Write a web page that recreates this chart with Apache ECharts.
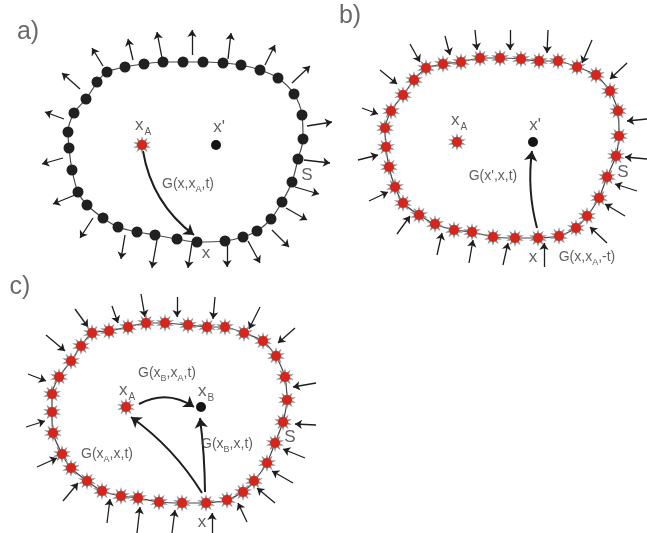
<!DOCTYPE html>
<html>
<head>
<meta charset="utf-8">
<script src="https://cdn.jsdelivr.net/npm/echarts@6/dist/echarts.min.js"></script>
<style>html,body{margin:0;padding:0;background:#fff}#chart{width:647px;height:533px}</style>
</head>
<body>
<div id="chart"></div>
<script>
// ---- Panel a: receiver dots on surface S ----
const aDots = [[97,82],[107,72],[125,67],[144,64],[163,62],[183,62],[203,62],[223,63],[241,65],[260,70],[278,78],[294,94],[302,115],[303,139],[298,159],[292,182],[282,202],[271,219],[257,231],[243,237],[225,241],[197,242],[177,239],[155,235],[137,232],[118,227],[103,218],[87,205],[78,192],[72,170],[69,148],[68,132],[74,113],[86,99]];
const aArrows = [[103,66,92,48],[133,60,128,39],[162,58,157,32],[192,55,192,30],[228,59,231,33],[265,65,275,45],[292,83,310,66],[307,126,332,122],[304,160,330,163],[295,187,319,194],[286,208,307,220],[272,230,289,247],[248,241,260,263],[227,245,227,267],[192,243,188,268],[157,240,152,268],[125,235,121,259],[93,218,80,238],[75,195,53,204],[63,158,42,164],[64,119,45,112],[80,89,62,73]];
const aSources = [[142,145]];
const aPoints = [[216,145]];

// ---- Panel b: sources on surface S ----
const bStars = [[414,80],[426,68],[443,64],[461,62],[480,58],[500,58],[521,59],[539,61],[558,61],[577,67],[596,75],[610,91],[618,111],[619,136],[616,156],[607,177],[599,198],[587,216],[576,228],[559,236],[538,238],[515,238],[493,237],[472,232],[454,230],[435,224],[419,215],[403,203],[395,187],[389,167],[386,147],[385,128],[391,111],[403,95]];
const bArrows = [[410,44,420,62],[445,36,450,55],[475,30,477,50],[510,30,510,50],[548,30,547,53],[592,40,582,63],[627,63,610,79],[647,119,627,121],[647,159,625,157],[637,191,615,184],[625,216,605,204],[607,243,590,227],[544,267,544,243],[503,265,508,243],[469,263,473,240],[437,255,442,233],[397,234,410,216],[369,201,388,192],[358,160,378,155],[362,108,378,114],[380,70,397,84]];
const bSources = [[457,142]];
const bPoints = [[533,142]];

// ---- Panel c: sources on surface S ----
const cStars = [[81,346],[92,333],[109,331],[128,327],[146,323],[165,323],[188,325],[207,327],[225,327],[244,333],[263,341],[276,356],[285,377],[287,400],[283,422],[275,443],[267,463],[254,481],[243,492],[227,500],[206,503],[182,503],[159,502],[138,498],[121,496],[102,491],[87,481],[71,468],[62,454],[53,433],[52,412],[52,394],[59,377],[71,361]];
const cArrows = [[75,309,88,327],[112,306,118,323],[141,294,145,317],[177,297,177,317],[215,297,213,319],[260,307,249,329],[295,328,278,343],[316,383,293,387],[316,425,295,424],[305,458,283,449],[293,483,272,471],[275,503,257,488],[247,522,238,503],[212,533,212,513],[172,533,175,510],[137,533,140,507],[107,523,110,499],[63,501,78,483],[37,467,57,458],[26,427,45,421],[28,374,46,381],[46,335,65,351]];
const cSources = [[126,407]];
const cPoints = [[201,407]];

// ---- Green's function paths (start x,y -> end x,y) ----
const greenPaths = [[143,151,194,235],[537,228,532,151],[139,404,194,407],[202,493,131,417],[205,492,200,418]];
const greenBend = [-0.2, 0.1, 0.3, -0.1, -0.03];

// ---- Text labels ----
const labels = [
  [28,32,'{p|a)}'],[143,126,'{t|x}{s|A}'],[219,128,"{t|x'}"],[188,185,'{g|G(x,x}{gs|A}{g|,t)}'],[307,176,'{t|S}'],[206,254,'{t|x}'],
  [350,16,'{p|b)}'],[459,121,'{t|x}{s|A}'],[535,126,"{t|x'}"],[493,177,"{g|G(x',x,t)}"],[623,173,'{t|S}'],[533,258,'{t|x}'],[587,258,'{g|G(x,x}{gs|A}{g|,-t)}'],
  [20,287,'{p|c)}'],[167,374,'{g|G(x}{gs|B}{g|,x}{gs|A}{g|,t)}'],[127,391,'{t|x}{s|A}'],[206,392,'{t|x}{s|B}'],[107,455,'{g|G(x}{gs|A}{g|,x,t)}'],[227,445,'{g|G(x}{gs|B}{g|,x,t)}'],[290,438,'{t|S}'],[202,523,'{t|x}']
];

// star (burst) symbol path
function burstPath(n){
  let d='';
  for(let i=0;i<2*n;i++){
    const r = i%2===0 ? 50 : 24;
    const a = Math.PI*i/n - Math.PI/2;
    const x = (50 + r*Math.cos(a)).toFixed(1), y = (50 + r*Math.sin(a)).toFixed(1);
    d += (i===0?'M':'L') + x + ' ' + y + ' ';
  }
  return 'path://' + d + 'Z';
}
const BURST = burstPath(10);

const closed = arr => arr.concat([arr[0]]);
const toLines = arr => arr.map(r => ({coords:[[r[0],r[1]],[r[2],r[3]]]}));
const FONT = 'Liberation Sans, Arial, sans-serif';
const TXT = '#383838';

const chart = echarts.init(document.getElementById('chart'), null, {renderer:'canvas'});
const boundaryStyle = {color:'#4a4a4a', width:1.2};
const starData = bStars.concat(cStars,aSources,bSources,cSources);

const option = {
  backgroundColor:'#ffffff',
  animation:false,
  grid:{left:0,right:0,top:0,bottom:0},
  xAxis:{type:'value',min:0,max:647,show:false},
  yAxis:{type:'value',min:0,max:533,inverse:true,show:false},
  series:[
    {type:'line',data:closed(aDots),symbol:'none',smooth:0.3,lineStyle:boundaryStyle,z:1},
    {type:'line',data:closed(bStars),symbol:'none',smooth:0.2,lineStyle:boundaryStyle,z:1},
    {type:'line',data:closed(cStars),symbol:'none',smooth:0.2,lineStyle:boundaryStyle,z:1},
    {type:'lines',coordinateSystem:'cartesian2d',data:toLines(aArrows.concat(bArrows,cArrows)),
      symbol:['none','arrow'],symbolSize:[1,7],lineStyle:{color:'#1e1e1e',width:1.3,opacity:1},z:2},
    {type:'lines',coordinateSystem:'cartesian2d',
      data:greenPaths.map((r,i)=>({coords:[[r[0],r[1]],[r[2],r[3]]],lineStyle:{curveness:greenBend[i]}})),
      symbol:['none','arrow'],symbolSize:[1,10],lineStyle:{color:'#1e1e1e',width:2,opacity:1},z:3},
    {type:'scatter',data:aDots,symbol:'circle',symbolSize:11,itemStyle:{color:'#202020',opacity:1},z:4},
    {type:'scatter',data:starData,symbol:BURST,symbolSize:18,itemStyle:{color:'#8a8a8a',opacity:1},z:4},
    {type:'scatter',data:starData,symbol:'circle',symbolSize:10,itemStyle:{color:'#d4261c',opacity:1},z:5},
    {type:'scatter',data:aPoints.concat(bPoints,cPoints),symbol:'circle',symbolSize:10,itemStyle:{color:'#151515',opacity:1},z:5},
    {type:'scatter',data:labels.map(l=>({value:[l[0],l[1]],txt:l[2]})),symbolSize:0,z:6,
      label:{show:true,position:'inside',align:'center',verticalAlign:'middle',
        formatter:p=>p.data.txt,
        rich:{
          p:{fontSize:25,fontFamily:FONT,color:'#444',lineHeight:28},
          t:{fontSize:17,fontFamily:FONT,color:TXT,lineHeight:18,verticalAlign:'top'},
          s:{fontSize:10,fontFamily:FONT,color:TXT,lineHeight:11,padding:[10,0,0,1],verticalAlign:'top'},
          g:{fontSize:14,fontFamily:FONT,color:TXT,lineHeight:16,verticalAlign:'top'},
          gs:{fontSize:9,fontFamily:FONT,color:TXT,lineHeight:10,padding:[8,0,0,0],verticalAlign:'top'}
        }}}
  ]
};
chart.setOption(option);
</script>
</body>
</html>
